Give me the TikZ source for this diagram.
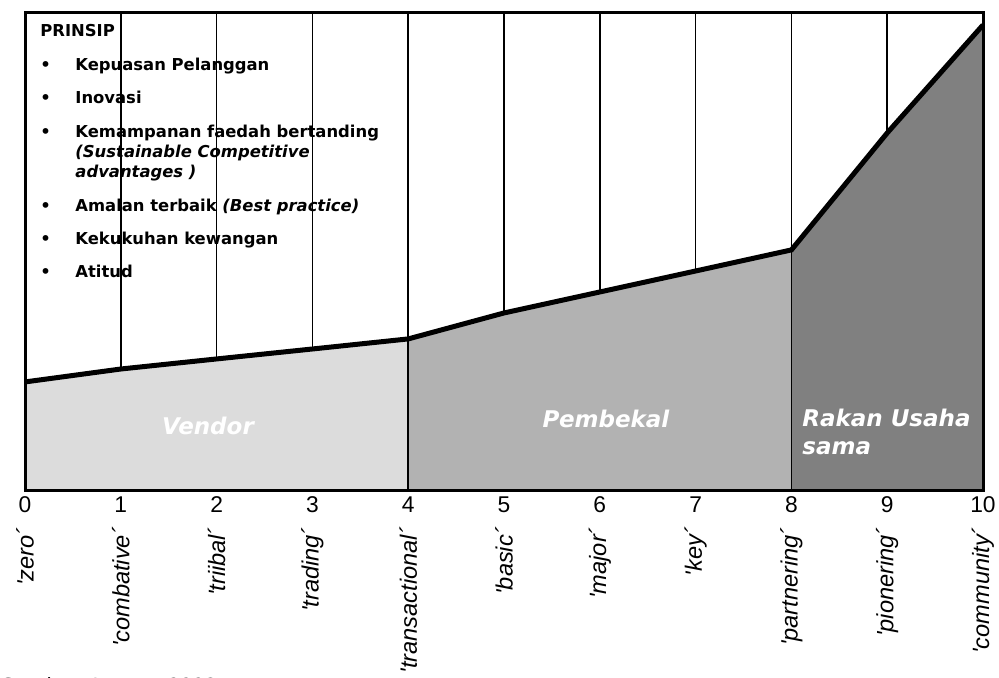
\documentclass[tikz,border=0pt]{standalone}
\usepackage{fontspec}
\setmainfont{DejaVu Sans}
\newfontfamily\stagefont{Liberation Sans}
\usepackage{tikz}
\usetikzlibrary{positioning,calc}
\definecolor{vendorgray}{gray}{0.863}
\definecolor{supplygray}{gray}{0.698}
\definecolor{partnergray}{gray}{0.502}
\tikzset{
    frame/.style = {
        draw,
        line width=1.5pt
    },
    curve/.style = {
        draw,
        line width=2.5pt,
        line join=miter
    },
    divider/.style = {
        draw,
        line width=0.8pt
    },
    number/.style = {
        on grid,
        inner sep=0pt,
        font=\stagefont\fontsize{11.4}{13}\selectfont
    },
    stage/.style = {
        inner sep=0pt,
        rotate=90,
        anchor=east,
        font=\stagefont\itshape\fontsize{11.8}{13}\selectfont
    },
    region/.style = {
        inner sep=0pt,
        text=white,
        font=\bfseries\itshape\fontsize{11.5}{14}\selectfont
    },
    principle/.style = {
        inner sep=0pt,
        anchor=north west,
        font=\bfseries\fontsize{8.2}{10}\selectfont
    },
}

\begin{document}
\begin{tikzpicture}[x=47.9pt, y=47.9pt, node distance=47.9pt]
    \useasboundingbox (-0.261,-1.942) rectangle (10.167,5.125);

    \coordinate (b0) at (0,0);
    \coordinate (b4) at (4,0);
    \coordinate (b8) at (8,0);
    \coordinate (b10) at (10,0);
    \coordinate (tl) at (0,4.99);
    \coordinate (tr) at (10,4.99);
    \coordinate (c0) at (0,1.138);
    \coordinate (c1) at (1,1.273);
    \coordinate (c2) at (2,1.378);
    \coordinate (c3) at (3,1.482);
    \coordinate (c4) at (4,1.587);
    \coordinate (c5) at (5,1.858);
    \coordinate (c6) at (6,2.077);
    \coordinate (c7) at (7,2.296);
    \coordinate (c8) at (8,2.516);
    \coordinate (c9) at (9,3.737);
    \coordinate (c10) at (10,4.864);

    % shaded bands under the curve
    \fill[vendorgray] (b0) -- (c0) -- (c1) -- (c2) -- (c3) -- (c4) -- (b4) -- cycle;
    \fill[supplygray] (b4) -- (c4) -- (c5) -- (c6) -- (c7) -- (c8) -- (b8) -- cycle;
    \fill[partnergray] (b8) -- (c8) -- (c9) -- (c10) -- (b10) -- cycle;

    \path[divider] (c1) -- (c1 |- tl);
    \path[divider] (c2) -- (c2 |- tl);
    \path[divider] (c3) -- (c3 |- tl);
    \path[divider] (b4) -- (b4 |- tl);
    \path[divider] (c5) -- (c5 |- tl);
    \path[divider] (c6) -- (c6 |- tl);
    \path[divider] (c7) -- (c7 |- tl);
    \path[divider] (b8) -- (b8 |- tl);
    \path[divider] (c9) -- (c9 |- tl);

    \path[curve] (c0) -- (c1) -- (c2) -- (c3) -- (c4) -- (c5) -- (c6) -- (c7) -- (c8) -- (c9) -- (c10);
    \path[frame] (b0) rectangle (tr);

    \node[principle] (prinsip) at ($(tl)+(0.157,-0.094)$) {%
        \begin{tabular}{@{}p{17.5pt}@{}l@{}}
            \multicolumn{2}{@{}l@{}}{PRINSIP}\\[7pt]
            • & Kepuasan Pelanggan\\[6.5pt]
            • & Inovasi\\[7pt]
            • & Kemampanan faedah bertanding\\
              & \textit{(Sustainable Competitive}\\
              & \textit{advantages )}\\[7pt]
            • & Amalan terbaik \textit{(Best practice)}\\[6.5pt]
            • & Kekukuhan kewangan\\[6.5pt]
            • & Atitud
        \end{tabular}};

    \node[region, anchor=base] (vendor) at (1.91,0.585) {Vendor};
    \node[region, anchor=base] (pembekal) at (6.065,0.658) {Pembekal};
    \node[region, anchor=north west, align=left] (rakan) at (8.11,0.861) {Rakan Usaha\\sama};

    \node[number] (n0) at (0,-0.14) {0};
    \node[number, right=of n0] (n1) {1};
    \node[number, right=of n1] (n2) {2};
    \node[number, right=of n2] (n3) {3};
    \node[number, right=of n3] (n4) {4};
    \node[number, right=of n4] (n5) {5};
    \node[number, right=of n5] (n6) {6};
    \node[number, right=of n6] (n7) {7};
    \node[number, right=of n7] (n8) {8};
    \node[number, right=of n8] (n9) {9};
    \node[number, right=of n9] (n10) {10};

    \node[stage] (s0) at ([yshift=-7pt]n0.south) {'zero´};
    \node[stage] (s1) at ([yshift=-7pt]n1.south) {'combative´};
    \node[stage] (s2) at ([yshift=-7pt]n2.south) {'triibal´};
    \node[stage] (s3) at ([yshift=-7pt]n3.south) {'trading´};
    \node[stage] (s4) at ([yshift=-7pt]n4.south) {'transactional´};
    \node[stage] (s5) at ([yshift=-7pt]n5.south) {'basic´};
    \node[stage] (s6) at ([yshift=-7pt]n6.south) {'major´};
    \node[stage] (s7) at ([yshift=-7pt]n7.south) {'key´};
    \node[stage] (s8) at ([yshift=-7pt]n8.south) {'partnering´};
    \node[stage] (s9) at ([yshift=-7pt]n9.south) {'pionering´};
    \node[stage] (s10) at ([yshift=-7pt]n10.south) {'community´};

    \node[anchor=base west, inner sep=0pt, font=\stagefont\itshape\fontsize{11}{13}\selectfont] (source) at (-0.27,-2.11) {Sumber: Lysons 2003};
\end{tikzpicture}
\end{document}
